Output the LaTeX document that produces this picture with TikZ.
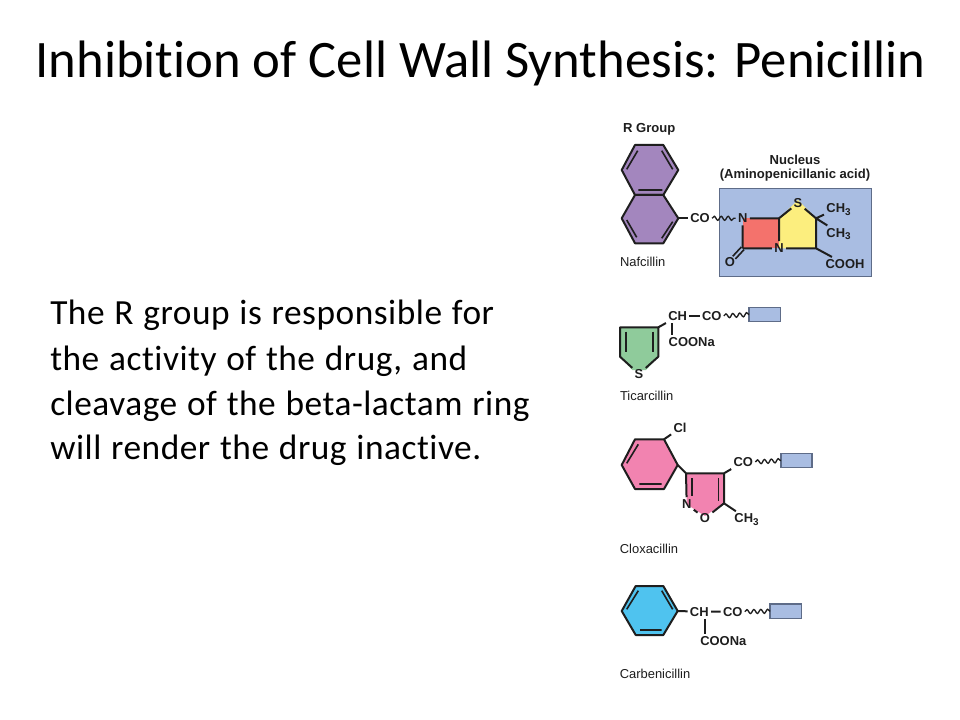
\documentclass[tikz,border=0pt]{standalone}
\usepackage{fontspec}
\setmainfont[Ligatures=NoCommon]{Carlito}
\newfontfamily\bodyfont[Ligatures=NoCommon,LetterSpace=1.5,WordSpace=1.15]{Carlito}
\newfontfamily\labfont{Liberation Sans}
\usetikzlibrary{decorations.pathmorphing}
\definecolor{inkc}{HTML}{1E1E1E}
\definecolor{nucfill}{HTML}{A9BDE2}
\definecolor{nucedge}{HTML}{5E6C88}
\definecolor{purp}{HTML}{A386BE}
\definecolor{redr}{HTML}{F4726C}
\definecolor{yel}{HTML}{FCEE7E}
\definecolor{grn}{HTML}{8FCB9B}
\definecolor{pnk}{HTML}{F283B0}
\definecolor{blu}{HTML}{4FC3EF}
\newcommand{\subthree}{\raisebox{-2pt}{\fontsize{7.4}{7}\selectfont 3}}
\tikzset{
  bond/.style={draw=inkc,line width=1.5pt,line join=round},
  thinbond/.style={draw=inkc,line width=1.2pt},
  wig/.style={draw=inkc,line width=1pt,decorate,decoration={snake,segment length=5.2pt,amplitude=1.5pt}},
  chem/.style={font=\labfont\bfseries\fontsize{9.7}{10}\selectfont,text=inkc,inner sep=1.6pt,text height=7pt,text depth=0pt},
  caplabel/.style={font=\labfont\fontsize{9.7}{10}\selectfont,text=inkc,inner sep=0pt},
  headlabel/.style={font=\labfont\bfseries\fontsize{9.8}{10}\selectfont,text=inkc,inner sep=0pt},
  stub/.style={draw=nucedge,fill=nucfill,line width=1pt},
  bodyline/.style={font=\bodyfont\fontsize{26.5}{26.5}\selectfont,text=black,anchor=base west,inner sep=0pt},
}
\begin{document}
\begin{tikzpicture}[x=0.75pt,y=-0.75pt]
\useasboundingbox (0,0) rectangle (960,720);
\fill[white] (0,0) rectangle (960,720);
\node[font=\fontsize{39.5}{40}\selectfont,anchor=base,inner sep=0pt] (title) at (480.5,78) {Inhibition of Cell Wall Synthesis: Penicillin};
\node[bodyline] (b1) at (50,325) {The R group is responsible for};
\node[bodyline] (b2) at (50,370) {the activity of the drug, and};
\node[bodyline] (b3) at (50,415) {cleavage of the beta-lactam ring};
\node[bodyline] (b4) at (50,459) {will render the drug inactive.};

% Nafcillin
\node[headlabel] (rg) at (649.3,129) {R Group};
\node[headlabel] (nuc1) at (795,160) {Nucleus};
\node[headlabel] (nuc2) at (795,175) {(Aminopenicillanic acid)};
\node[caplabel] (nafc) at (642.7,261.7) {Nafcillin};
\draw[bond,fill=purp] (635,145)--(663.3,145)--(678.3,170)--(663.3,195)--(635,195)--(621.7,170)--cycle;
\draw[bond,fill=purp] (635,195)--(663.3,195)--(678.3,218.3)--(663.3,243.3)--(635,243.3)--(621.7,218.3)--cycle;
\draw[thinbond] (626.7,169.3)--(637.7,150.7) (661.7,150.7)--(672.7,169.3) (638.3,190)--(662.3,190)
  (626.7,220)--(636.7,237.3) (661.7,238.3)--(672.7,221.7);
\coordinate (nv) at (678.3,218.3);
\node[chem] (co1) at (700,218.3) {CO};
\draw[bond] (nv)--(co1);
\draw[stub] (719.3,188.3) rectangle (871.7,276.7);
\fill[redr] (742.7,218.3)--(779,218.3)--(779,248.3)--(742.7,248.3)--cycle;
\fill[yel] (779,218.3)--(798,200)--(816,218.3)--(816,248.3)--(779,248.3)--cycle;
\coordinate (a1) at (779,218.3);
\coordinate (a2) at (742.7,248.3);
\coordinate (a3) at (816,218.3);
\coordinate (a4) at (816,248.3);
\node[chem] (n1) at (742.7,218.3) {N};
\node[chem] (n2) at (779,248.3) {N};
\node[chem] (s1) at (798,203) {S};
\node[chem] (o1) at (730,262) {O};
\node[chem] (me1) at (838.5,208) {CH\subthree};
\node[chem] (me2) at (838.5,232.5) {CH\subthree};
\node[chem] (cooh) at (845,264) {COOH};
\draw[bond] (n1)--(a1) (n1)--(a2) (a2)--(n2) (n2)--(a4) (n2)--(a1) (a1)--(s1) (s1)--(a3) (a3)--(a4) (a3)--(me1) (a3)--(me2) (a4)--(cooh);
\draw[thinbond,shorten >=4.5pt] ([xshift=1pt,yshift=-1pt]a2)--([xshift=1pt,yshift=-1pt]o1.center);
\draw[thinbond,shorten >=4.5pt] ([xshift=-1pt,yshift=1pt]a2)--([xshift=-1pt,yshift=1pt]o1.center);
\draw[wig] (co1.east)--(n1.west);

% Ticarcillin
\coordinate (t1) at (620,327.3);
\coordinate (t2) at (658.3,327.3);
\coordinate (t3) at (658.3,356.7);
\coordinate (t4) at (620,356.7);
\fill[grn] (t1)--(t2)--(t3)--(646,370)--(632.3,370)--(t4)--cycle;
\node[chem] (s2) at (639,374) {S};
\draw[bond] (s2)--(t4)--(t1)--(t2)--(t3)--(s2);
\draw[thinbond] (626,331.7)--(626,352.3) (652.7,331.7)--(652.7,352.3);
\node[chem] (ch2) at (677.7,316) {CH};
\node[chem] (co2) at (711.7,316) {CO};
\node[chem] (na2) at (691.7,341.7) {COONa};
\node[caplabel] (ticc) at (646.7,396) {Ticarcillin};
\draw[stub] (749,307.3) rectangle (780.3,321.7);
\coordinate (r2w) at (749,314.5);
\draw[bond] (t2)--(ch2.south west);
\draw[bond] (ch2)--(co2);
\draw[bond] ([xshift=-4pt]ch2.south)--([xshift=-4pt]ch2.south |- na2.north);
\draw[wig] (co2.east)--(r2w);

% Cloxacillin
\draw[bond,fill=pnk] (635,439.3)--(664,439.3)--(677.7,465)--(664,489)--(635,489)--(621.7,465)--cycle;
\draw[thinbond] (626.7,463.3)--(638.3,444.3) (639.3,484)--(661.7,484);
\coordinate (c1) at (664,439.3);
\coordinate (c2) at (677.7,465);
\coordinate (c3) at (686,473.3);
\coordinate (c4) at (724,473.3);
\coordinate (c5) at (724,503.3);
\fill[pnk] (c3)--(c4)--(c5)--(705,516)--(686.7,504.3)--cycle;
\node[chem] (n3) at (686.7,504.3) {N};
\node[chem] (o3) at (705,518.3) {O};
\node[chem] (cl) at (680,428.3) {Cl};
\node[chem] (co3) at (743.3,462) {CO};
\node[chem] (me3) at (746.5,518.3) {CH\subthree};
\node[caplabel] (cloc) at (649,549) {Cloxacillin};
\draw[bond] (c1)--(cl) (c2)--(c3)--(c4)--(c5)--(o3)--(n3)--(c3) (c4)--(co3) (c5)--(me3);
\draw[thinbond] (691.7,478.3)--(691.7,495.7) (718.3,478.3)--(718.3,501);
\draw[stub] (781,453.3) rectangle (812,467.7);
\coordinate (r3w) at (781,460.5);
\draw[wig] (co3.east)--(r3w);

% Carbenicillin
\draw[bond,fill=blu] (635.7,586)--(663.3,586)--(677.7,611)--(663.3,635)--(635.7,635)--(621.7,611)--cycle;
\draw[thinbond] (626.7,609.3)--(638.3,590.7) (661.7,590.7)--(672.7,609.3) (640,630)--(661.7,630);
\coordinate (d1) at (677.7,611);
\node[chem] (ch4) at (699.3,611.7) {CH};
\node[chem] (co4) at (732.7,611.7) {CO};
\node[chem] (na4) at (723.3,640.7) {COONa};
\node[caplabel] (carb) at (655,674) {Carbenicillin};
\draw[bond] (d1)--(ch4) (ch4)--(co4);
\draw[bond] ([xshift=4pt]ch4.south)--([xshift=4pt]ch4.south |- na4.north);
\draw[stub] (770,604) rectangle (801.3,618.3);
\coordinate (r4w) at (770,611.2);
\draw[wig] (co4.east)--(r4w);
\end{tikzpicture}
\end{document}
